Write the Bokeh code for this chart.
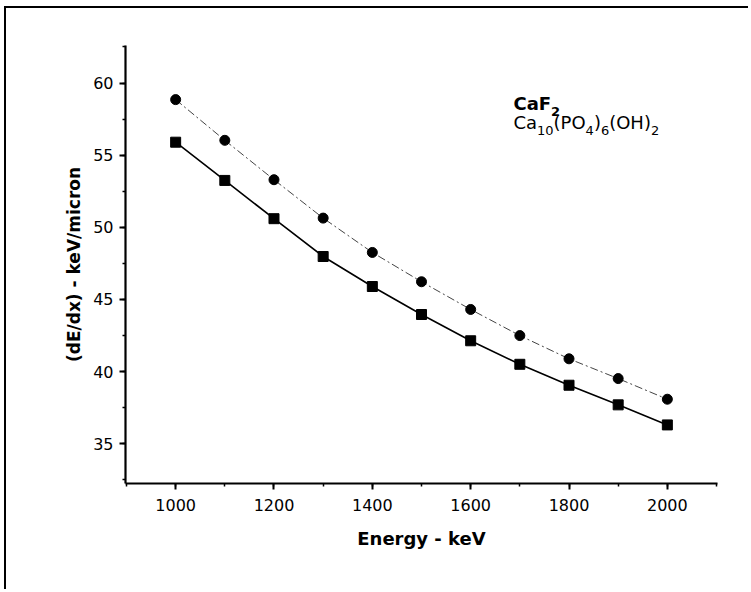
from bokeh.plotting import figure
from bokeh.models import Range1d, FixedTicker, Label
from bokeh.embed import file_html
from bokeh.resources import INLINE

energy = [1000, 1100, 1200, 1300, 1400, 1500, 1600, 1700, 1800, 1900, 2000]
caf2 = [58.85, 56.03, 53.30, 50.64, 48.26, 46.23, 44.31, 42.50, 40.89, 39.52, 38.09]
hap = [55.90, 53.25, 50.60, 47.98, 45.90, 43.96, 42.14, 40.51, 39.06, 37.70, 36.31]
x_ticks = [1000, 1200, 1400, 1600, 1800, 2000]
y_ticks = [35, 40, 45, 50, 55, 60]
# legend text pieces: (text, is_subscript)
legend_1 = [("CaF", False), ("2", True)]
legend_2 = [("Ca", False), ("10", True), ("(PO", False), ("4", True), (")", False),
            ("6", True), ("(OH)", False), ("2", True)]

FONT = "DejaVu Sans"

p = figure(width=744, height=583, output_backend="svg", toolbar_location=None,
           x_range=Range1d(898, 2102), y_range=Range1d(32.25, 62.6),
           min_border_left=119, min_border_top=37, min_border_right=33, min_border_bottom=108)
p.styles = {"border-left": "2px solid black", "border-top": "2px solid black",
            "margin-left": "4px", "margin-top": "6px"}
p.outline_line_color = None
p.grid.visible = False

p.line(energy, caf2, line_color="#444444", line_width=1, line_dash="8 3 2 3")
p.line(energy, hap, line_color="black", line_width=1.6)
p.scatter(energy, caf2, marker="circle", size=10, color="black")
p.scatter(energy, hap, marker="square", size=10, color="black")

for ax in (p.xaxis[0], p.yaxis[0]):
    ax.axis_line_width = 2.2
    ax.major_tick_line_width = 2
    ax.minor_tick_line_width = 1.5
    ax.major_tick_out = 6
    ax.major_tick_in = 0
    ax.minor_tick_out = 3
    ax.minor_tick_in = 0
    ax.major_label_text_font = FONT
    ax.major_label_text_font_size = "16px"
    ax.major_label_text_color = "black"
    ax.axis_label_text_font = FONT
    ax.axis_label_text_font_style = "bold"
    ax.axis_label_text_color = "black"

p.xaxis.axis_label_text_font_size = "18px"
p.yaxis.axis_label_text_font_size = "17px"
p.xaxis.ticker = FixedTicker(ticks=x_ticks, minor_ticks=list(range(900, 2101, 100)))
p.yaxis.ticker = FixedTicker(ticks=y_ticks, minor_ticks=[32.5 + 2.5 * i for i in range(13)])
p.xaxis.axis_label = "Energy - keV"
p.yaxis.axis_label = "(dE/dx) - keV/micron"
p.xaxis.major_label_standoff = 9
p.xaxis.axis_label_standoff = 14
p.yaxis.major_label_standoff = 6
p.yaxis.axis_label_standoff = 6

# approximate DejaVu Sans advance widths (em)
W_NORM = {"C": .698, "a": .613, "(": .390, ")": .390, "P": .603, "O": .787, "H": .752}
W_BOLD = {"C": .734, "a": .675, "F": .683}


def add_legend_line(pieces, y, bold):
    off = 0.0
    for txt, sub in pieces:
        size = 13 if sub else 18
        p.add_layout(Label(x=1687, y=y, x_offset=off, y_offset=-8 if sub else 0, text=txt,
                           text_font=FONT, text_font_size=f"{size}px",
                           text_font_style="bold" if bold else "normal",
                           text_color="black", text_baseline="alphabetic"))
        if sub:
            off += 0.636 * size * len(txt)
        else:
            table = W_BOLD if bold else W_NORM
            off += sum(table.get(c, 0.65) for c in txt) * size


add_legend_line(legend_1, 58.59, True)
add_legend_line(legend_2, 57.27, False)

open("out.html", "w").write(file_html(p, INLINE))
